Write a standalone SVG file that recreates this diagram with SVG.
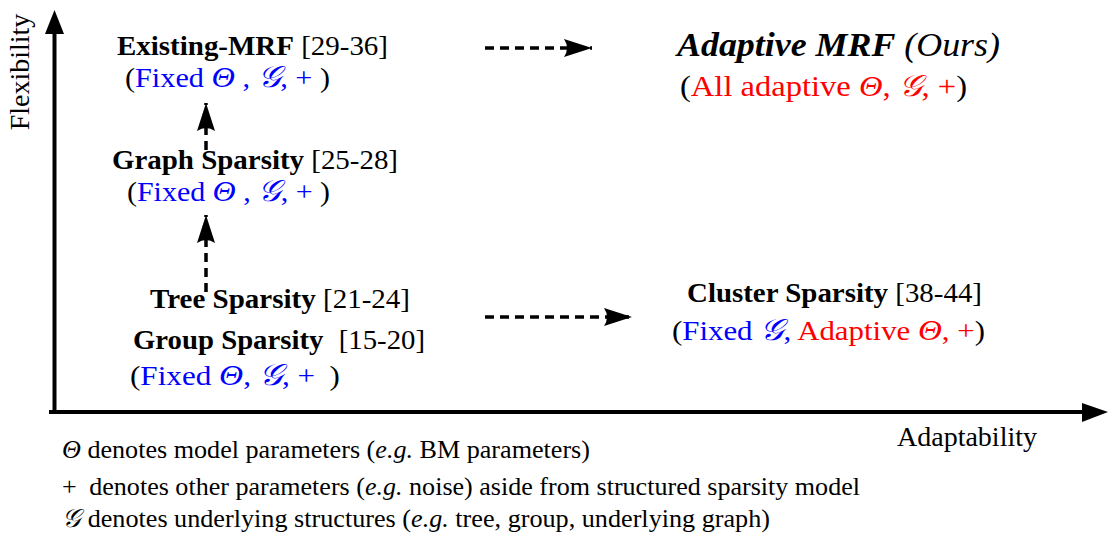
<svg xmlns="http://www.w3.org/2000/svg" width="1110" height="541" viewBox="0 0 1110 541">
<style>
text{font-family:"Liberation Serif","Times New Roman",serif;fill:#000}
.b{font-weight:bold}
.bl{fill:#0000ff}
.rd{fill:#ff0000}
.th{font-style:italic}
.g{font-family:"DejaVu Serif","DejaVu Sans",serif;font-style:italic}
.lab{font-size:28px}
.sub{font-size:28px}
.big{font-size:30px}
.leg{font-size:26px}
.dash{stroke:#000;stroke-width:3.5;stroke-dasharray:9 6;fill:none}
.axis{stroke:#000;stroke-width:4;fill:none}
</style>
<defs>
<marker id="ah" markerWidth="30" markerHeight="20" refX="28" refY="10" orient="auto" markerUnits="userSpaceOnUse">
<path d="M0,1 L28,10 L0,19 Q6,10 0,1 Z" fill="#000"/>
</marker>
</defs>
<g id="axes">
<line class="axis" x1="54.5" y1="412" x2="54.5" y2="32"/>
<path d="M54.5,10 L64,34 L45,34 Z" fill="#000"/>
<line class="axis" x1="49" y1="412" x2="1084" y2="412"/>
<path d="M1108,412 L1082,403 L1082,422 Z" fill="#000"/>
<text x="0" y="0" font-size="28" text-anchor="middle" transform="translate(29,72) rotate(-90)">Flexibility</text>
<text x="1037" y="446" font-size="28" text-anchor="end">Adaptability</text>
</g>
<g id="connectors">
<line class="dash" x1="485" y1="48" x2="592" y2="48" marker-end="url(#ah)"/>
<line class="dash" x1="485" y1="317" x2="632" y2="317" marker-end="url(#ah)"/>
<line class="dash" x1="206" y1="150" x2="206" y2="103" marker-end="url(#ah)"/>
<line class="dash" x1="206" y1="292" x2="206" y2="215" marker-end="url(#ah)"/>
</g>
<g id="existing-mrf">
<text class="lab" x="117" y="55" textLength="271" lengthAdjust="spacingAndGlyphs"><tspan class="b">Existing-MRF</tspan> [29-36]</text>
<text class="sub" x="125" y="87" textLength="205" lengthAdjust="spacingAndGlyphs">(<tspan class="bl">Fixed <tspan class="th big">Θ</tspan> , <tspan class="g big">𝒢</tspan>, + </tspan>)</text>
</g>
<g id="graph-sparsity">
<text class="lab" x="112" y="169" textLength="286" lengthAdjust="spacingAndGlyphs"><tspan class="b">Graph Sparsity</tspan> [25-28]</text>
<text class="sub" x="127" y="201" textLength="203" lengthAdjust="spacingAndGlyphs">(<tspan class="bl">Fixed <tspan class="th big">Θ</tspan> , <tspan class="g big">𝒢</tspan>, + </tspan>)</text>
</g>
<g id="tree-group-sparsity">
<text class="lab" x="150" y="308" textLength="260" lengthAdjust="spacingAndGlyphs"><tspan class="b">Tree Sparsity</tspan> [21-24]</text>
<text class="lab" x="133" y="349" textLength="292" lengthAdjust="spacingAndGlyphs"><tspan class="b">Group Sparsity</tspan> <tspan dx="8">[15-20]</tspan></text>
<text class="sub" x="130" y="385" textLength="210" lengthAdjust="spacingAndGlyphs">(<tspan class="bl">Fixed <tspan class="th big">Θ</tspan>, <tspan class="g big">𝒢</tspan>, + </tspan><tspan dx="6">)</tspan></text>
</g>
<g id="adaptive-mrf">
<text x="677" y="56" font-size="33" font-style="italic" textLength="323" lengthAdjust="spacingAndGlyphs"><tspan class="b">Adaptive MRF</tspan> (Ours)</text>
<text x="680" y="96" font-size="30" textLength="287" lengthAdjust="spacingAndGlyphs">(<tspan class="rd">All adaptive <tspan class="th">Θ</tspan>, <tspan class="g">𝒢</tspan>, +</tspan>)</text>
</g>
<g id="cluster-sparsity">
<text class="lab" x="687" y="302" textLength="295" lengthAdjust="spacingAndGlyphs"><tspan class="b">Cluster Sparsity</tspan> [38-44]</text>
<text x="672" y="340" font-size="28" textLength="313" lengthAdjust="spacingAndGlyphs">(<tspan class="bl">Fixed <tspan class="g big">𝒢</tspan>,</tspan> <tspan class="rd">Adaptive <tspan class="th big">Θ</tspan>, +</tspan>)</text>
</g>
<g id="legend">
<text class="leg" x="62" y="458" textLength="528" lengthAdjust="spacingAndGlyphs"><tspan class="th">Θ</tspan> denotes model parameters (<tspan font-style="italic">e.g.</tspan> BM parameters)</text>
<text class="leg" x="62" y="495" textLength="798" lengthAdjust="spacingAndGlyphs">+ <tspan dx="6">denotes other parameters (</tspan><tspan font-style="italic">e.g.</tspan> noise) aside from structured sparsity model</text>
<text class="leg" x="62" y="527" textLength="708" lengthAdjust="spacingAndGlyphs"><tspan class="g">𝒢</tspan> denotes underlying structures (<tspan font-style="italic">e.g.</tspan> tree, group, underlying graph)</text>
</g>
</svg>
